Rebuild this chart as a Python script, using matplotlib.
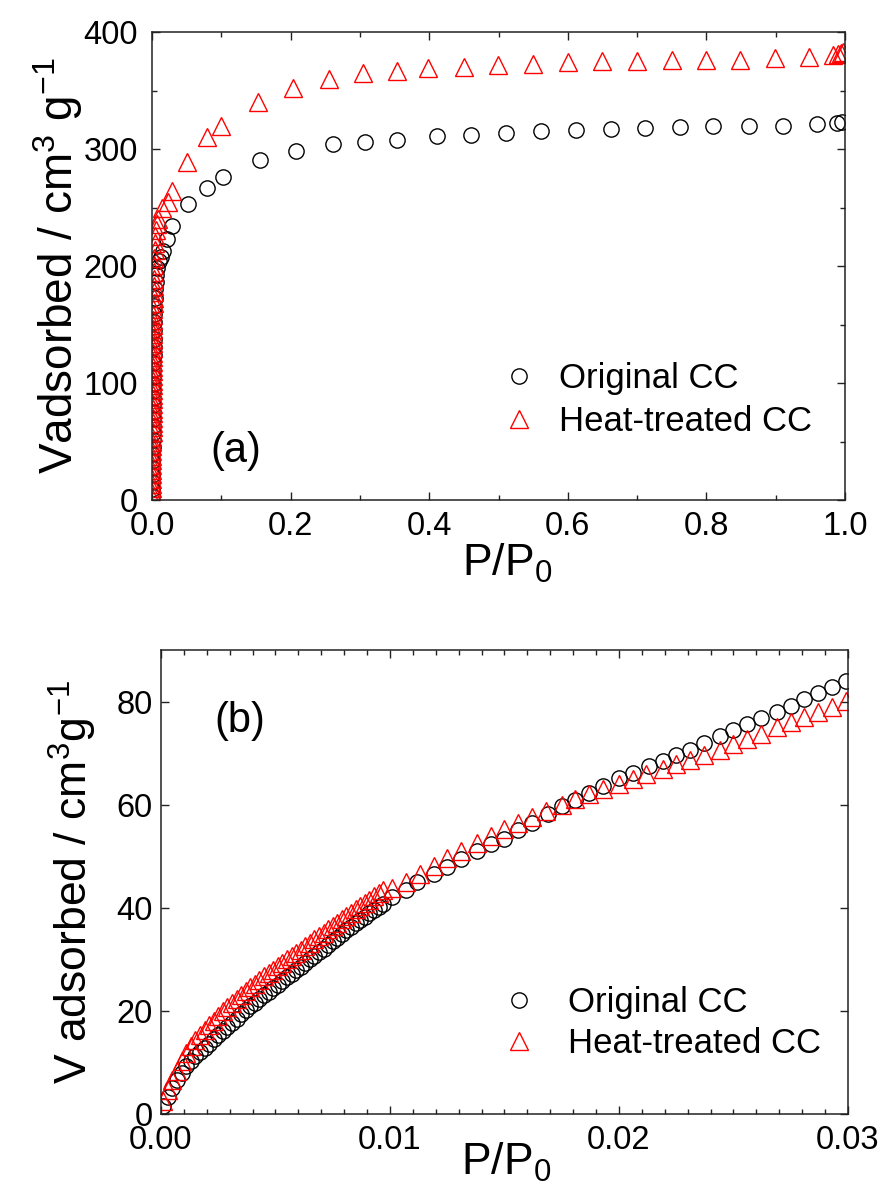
"""Two-panel N2 adsorption isotherm: full range (a) and low-pressure region (b)."""

import matplotlib

matplotlib.use("Agg")
import matplotlib.pyplot as plt
from matplotlib.ticker import MultipleLocator, FormatStrFormatter

plt.rcParams["font.family"] = ["Liberation Sans", "DejaVu Sans"]
plt.rcParams["mathtext.fontset"] = "custom"
plt.rcParams["mathtext.rm"] = "Liberation Sans"
plt.rcParams["mathtext.it"] = "Liberation Sans:italic"
plt.rcParams["mathtext.bf"] = "Liberation Sans:bold"

LABEL_ORIG = "Original CC"
LABEL_HEAT = "Heat-treated CC"

# ---- panel (a): full relative-pressure range ----
orig_a_x = [0.0001, 0.0002, 0.0003, 0.0004, 0.0005, 0.0006, 0.0007, 0.0008, 0.0009,
            0.0010, 0.0011, 0.0012, 0.0013, 0.0014, 0.0015, 0.0016, 0.0017, 0.0018,
            0.0019, 0.0020, 0.0022, 0.0024, 0.0026, 0.0028, 0.0030, 0.0033, 0.0036,
            0.0040, 0.0045, 0.0052, 0.0060, 0.0075, 0.0095, 0.0125, 0.016, 0.021,
            0.029,
            0.052, 0.079, 0.103, 0.156, 0.208, 0.261, 0.307, 0.353, 0.411, 0.460,
            0.511, 0.561, 0.612, 0.662, 0.711, 0.762, 0.810, 0.861, 0.910, 0.960,
            0.988, 0.995]
orig_a_y = [3, 9, 15, 21, 27, 33, 39, 45, 51,
            57, 63, 69, 75, 81, 87, 93, 99, 105,
            111, 117, 124, 131, 138, 145, 152, 159, 166,
            173, 180, 186, 192, 198, 204, 208, 213, 223,
            234,
            253, 267, 276, 291, 298, 304, 306, 308, 311, 312,
            314, 315, 316, 317, 318, 318.5, 319.5, 319.5, 320, 321,
            322, 323]

heat_a_x = [0.00005, 0.0001, 0.00015, 0.0002, 0.00025, 0.0003, 0.00035, 0.0004,
            0.00045, 0.0005, 0.00055, 0.0006, 0.00065, 0.0007, 0.00075, 0.0008,
            0.00085, 0.0009, 0.00095, 0.0010, 0.00105, 0.0011, 0.00115, 0.0012,
            0.00125, 0.0013, 0.00135, 0.0014, 0.00145, 0.0015, 0.00155, 0.0016,
            0.00165, 0.0017, 0.00175, 0.0018, 0.00185, 0.0019, 0.00195, 0.0020,
            0.0021, 0.0022, 0.0023, 0.0024, 0.0025, 0.0027, 0.0029, 0.0032, 0.0035,
            0.0040, 0.0045, 0.0050, 0.0060, 0.0070, 0.0080, 0.014, 0.023, 0.029,
            0.050, 0.080, 0.100, 0.153, 0.204, 0.256, 0.305, 0.353, 0.398, 0.450,
            0.499, 0.550, 0.600, 0.649, 0.700, 0.750, 0.799, 0.848, 0.899, 0.948,
            0.983, 0.990, 0.994, 0.997]
heat_a_y = [2, 6, 10, 14, 18, 22, 26, 30,
            34, 38, 42, 46, 50, 54, 58, 62,
            66, 70, 74, 78, 82, 86, 90, 94,
            98, 102, 106, 110, 114, 118, 122, 126,
            130, 134, 138, 142, 146, 150, 154, 158,
            163, 168, 173, 178, 183, 189, 195, 201, 207,
            214, 220, 226, 231, 236, 240, 250, 255, 264,
            289, 310, 320, 340, 352, 360, 365, 367, 369, 370,
            372, 373, 374, 375, 375, 376, 376, 376, 378, 379,
            380, 381, 382, 383]

# ---- panel (b): low-pressure region ----
orig_b_x = [0.0001, 0.0003, 0.0005, 0.0007, 0.0009, 0.0011, 0.0013, 0.0015, 0.0017,
            0.0019, 0.0021, 0.0023, 0.0025, 0.0027, 0.0029, 0.0031, 0.0033, 0.0035,
            0.0037, 0.0039, 0.0041, 0.0043, 0.0045, 0.0047, 0.0049, 0.0051, 0.0053,
            0.0055, 0.0057, 0.0059, 0.0061, 0.0063, 0.0065, 0.0067, 0.0069, 0.0071,
            0.0073, 0.0075, 0.0077, 0.0079, 0.0081, 0.0083, 0.0085, 0.0087, 0.0089,
            0.0091, 0.0093, 0.0095, 0.0097,
            0.0101, 0.0107, 0.0112, 0.0119, 0.0125, 0.0131, 0.0138, 0.0144, 0.0150,
            0.0156, 0.0162, 0.0169, 0.0175, 0.0181, 0.0187, 0.0193, 0.0200, 0.0206,
            0.0213, 0.0219, 0.0225, 0.0231, 0.0237, 0.0244, 0.0250, 0.0256, 0.0262,
            0.0269, 0.0275, 0.0281, 0.0287, 0.0293, 0.0299]
orig_b_y = [1.5, 3.3, 5.0, 6.5, 8.0, 9.3, 10.3, 11.2, 12.0,
            12.8, 13.6, 14.5, 15.3, 16.1, 16.9, 17.7, 18.5, 19.3,
            20.1, 20.9, 21.6, 22.3, 23.0, 23.7, 24.4, 25.1, 25.8,
            26.5, 27.2, 27.9, 28.6, 29.3, 30.0, 30.7, 31.4, 32.1,
            32.8, 33.5, 34.2, 34.9, 35.6, 36.3, 37.0, 37.7, 38.3,
            39.0, 39.6, 40.2, 40.8,
            42.0, 43.5, 45.0, 46.5, 47.9, 49.4, 51.1, 52.3, 53.4,
            55.0, 56.5, 58.1, 59.7, 61.0, 62.3, 63.7, 65.1, 66.2,
            67.5, 68.5, 69.6, 70.7, 72.0, 73.3, 74.4, 75.7, 76.8,
            78.0, 79.2, 80.4, 81.7, 82.9, 84.0]

heat_b_x = [0.0001, 0.0003, 0.0005, 0.0007, 0.0009, 0.0011, 0.0013, 0.0015, 0.0017,
            0.0019, 0.0021, 0.0023, 0.0025, 0.0027, 0.0029, 0.0031, 0.0033, 0.0035,
            0.0037, 0.0039, 0.0041, 0.0043, 0.0045, 0.0047, 0.0049, 0.0051, 0.0053,
            0.0055, 0.0057, 0.0059, 0.0061, 0.0063, 0.0065, 0.0067, 0.0069, 0.0071,
            0.0073, 0.0075, 0.0077, 0.0079, 0.0081, 0.0083, 0.0085, 0.0087, 0.0089,
            0.0091, 0.0093, 0.0095, 0.0097,
            0.0101, 0.0107, 0.0113, 0.0119, 0.0125, 0.0131, 0.0138, 0.0144, 0.0150,
            0.0156, 0.0162, 0.0168, 0.0175, 0.0181, 0.0187, 0.0193, 0.0200, 0.0206,
            0.0212, 0.0219, 0.0225, 0.0231, 0.0237, 0.0244, 0.0250, 0.0256, 0.0262,
            0.0269, 0.0275, 0.0281, 0.0287, 0.0293, 0.0299]
heat_b_y = [2.5, 4.6, 6.6, 8.4, 10.2, 11.8, 13.2, 14.4, 15.4,
            16.3, 17.2, 18.1, 19.0, 19.9, 20.7, 21.5, 22.3, 23.1,
            23.9, 24.6, 25.3, 26.0, 26.7, 27.4, 28.0, 28.7, 29.3,
            30.0, 30.6, 31.3, 31.9, 32.6, 33.2, 33.9, 34.5, 35.2,
            35.8, 36.5, 37.1, 37.8, 38.4, 39.0, 39.7, 40.3, 41.0,
            41.6, 42.2, 42.8, 43.4,
            43.8, 45.0, 46.6, 48.2, 49.7, 51.1, 52.6, 54.0, 55.2,
            56.4, 57.6, 58.8, 60.0, 61.1, 62.1, 63.0, 64.0, 64.9,
            65.9, 66.9, 67.8, 68.7, 69.7, 70.7, 71.7, 72.7, 73.8,
            75.0, 76.0, 77.0, 78.0, 79.0, 80.2]

W, H = 887, 1199
fig = plt.figure(figsize=(W / 100, H / 100), dpi=100)


def px_axes(left, top, right, bottom):
    return fig.add_axes([left / W, 1 - bottom / H, (right - left) / W, (bottom - top) / H])


def style_axes(ax, ypad):
    for s in ax.spines.values():
        s.set_linewidth(1.1)
        s.set_color("#222222")
    ax.tick_params(which="both", direction="in", top=True, right=True,
                   width=1.0, colors="#222222", labelcolor="black", labelsize=23.5)
    ax.tick_params(which="major", length=6)
    ax.tick_params(which="minor", length=3.5)
    ax.tick_params(axis="x", pad=8)
    ax.tick_params(axis="y", pad=ypad)


def draw(ax, ox, oy, hx, hy):
    ax.plot(ox, oy, ls="none", marker="o", ms=11, mfc="none", mec="black",
            mew=1.0, label=LABEL_ORIG)
    ax.plot(hx, hy, ls="none", marker="^", ms=13, mfc="none", mec="red",
            mew=1.0, label=LABEL_HEAT)


# panel (a)
ax1 = px_axes(152, 32, 845, 500)
draw(ax1, orig_a_x, orig_a_y, heat_a_x, heat_a_y)
ax1.set_xlim(0, 1.0)
ax1.set_ylim(0, 400)
ax1.xaxis.set_major_locator(MultipleLocator(0.2))
ax1.xaxis.set_minor_locator(MultipleLocator(0.1))
ax1.xaxis.set_major_formatter(FormatStrFormatter("%.1f"))
ax1.yaxis.set_major_locator(MultipleLocator(100))
ax1.yaxis.set_minor_locator(MultipleLocator(50))
style_axes(ax1, ypad=10)
ax1.set_xlabel("P/P$_0$", fontsize=32)
ax1.xaxis.set_label_coords(0.512, -0.09)
ax1.set_ylabel("Vadsorbed / cm$^3$ g$^{-1}$", fontsize=33)
ax1.yaxis.set_label_coords(-0.097, 0.5)
ax1.text(0.121, 0.105, "(a)", transform=ax1.transAxes, fontsize=30,
         ha="center", va="center")
ax1.legend(loc="center left", bbox_to_anchor=(0.505, 0.213), frameon=False,
           fontsize=25, handlelength=1.0, handletextpad=0.63, labelspacing=0.28,
           borderpad=0, borderaxespad=0, numpoints=1)

# panel (b)
ax2 = px_axes(161, 650, 848, 1114)
draw(ax2, orig_b_x, orig_b_y, heat_b_x, heat_b_y)
ax2.set_xlim(0, 0.03)
ax2.set_ylim(0, 90)
ax2.xaxis.set_major_locator(MultipleLocator(0.01))
ax2.xaxis.set_minor_locator(MultipleLocator(0.001))
ax2.xaxis.set_major_formatter(FormatStrFormatter("%.2f"))
ax2.yaxis.set_major_locator(MultipleLocator(20))
style_axes(ax2, ypad=6)
ax2.set_xlabel("P/P$_0$", fontsize=32)
ax2.xaxis.set_label_coords(0.502, -0.058)
ax2.set_ylabel("V adsorbed / cm$^3$g$^{-1}$", fontsize=32)
ax2.yaxis.set_label_coords(-0.090, 0.5)
ax2.text(0.115, 0.847, "(b)", transform=ax2.transAxes, fontsize=30,
         ha="center", va="center")
ax2.legend(loc="center left", bbox_to_anchor=(0.496, 0.196), frameon=False,
           fontsize=25, handlelength=1.0, handletextpad=0.92, labelspacing=0.22,
           borderpad=0, borderaxespad=0, numpoints=1)

fig.savefig("out.png", dpi=100)
plt.close(fig)
